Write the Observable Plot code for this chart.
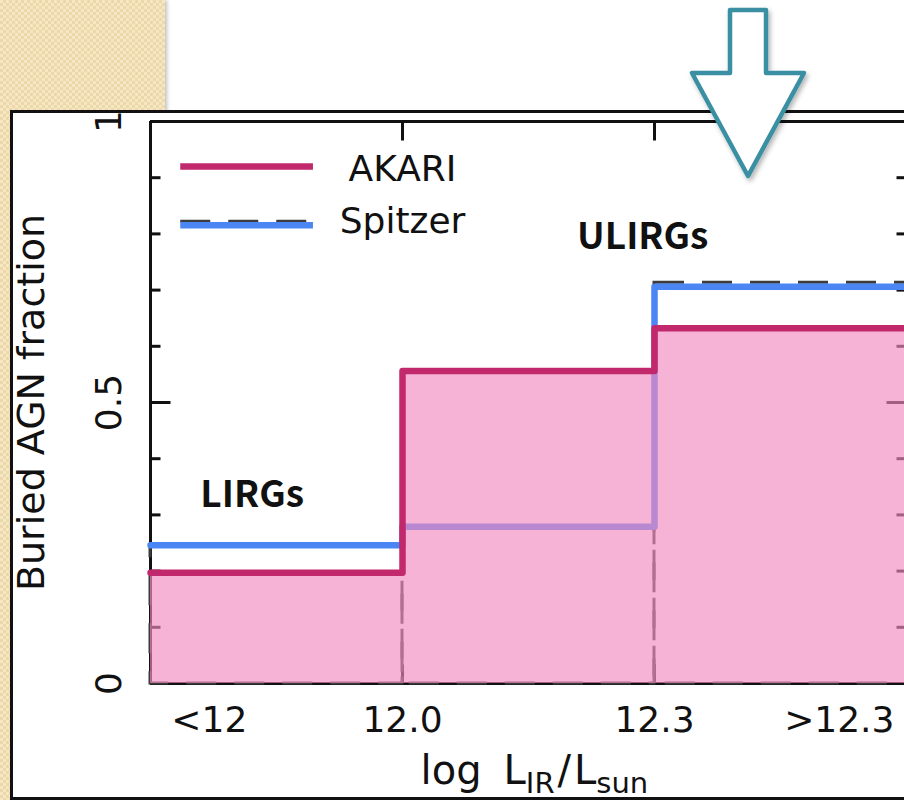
<!DOCTYPE html>
<html>
<head>
<meta charset="utf-8">
<script src="https://cdn.jsdelivr.net/npm/d3@7"></script>
<script src="https://cdn.jsdelivr.net/npm/@observablehq/plot@0.6"></script>
<style>
html, body { margin: 0; padding: 0; background: #fff; }
#wrap { position: relative; width: 904px; height: 800px; overflow: hidden; background: #fff; }
#beige { position: absolute; left: 0; top: 0; width: 165px; height: 800px;
  background-color: #F2E0B5;
  background-image: repeating-conic-gradient(#ECD8A8 0 25%, #F6E7C4 0 50%);
  background-size: 6px 6px;
  box-shadow: 2px 0 4px rgba(0,0,0,0.25); }
#frame { position: absolute; left: 10px; top: 110px; width: 910px; height: 684px;
  border: 3px solid #111; background: #fff; }
#plot { position: absolute; left: 0; top: 0; }
#arrow { position: absolute; left: 0; top: 0; pointer-events: none; }
</style>
</head>
<body>
<div id="wrap">
  <div id="beige"></div>
  <div id="frame"></div>
  <div id="plot"></div>
  <svg id="arrow" width="904" height="800">
    <defs>
      <filter id="sh" x="-30%" y="-30%" width="160%" height="160%">
        <feDropShadow dx="2" dy="3" stdDeviation="2.5" flood-color="#000" flood-opacity="0.3"/>
      </filter>
    </defs>
    <polygon points="730,10 766,10 766,73 804,73 748,176 692,73 730,73"
      fill="#fff" stroke="#3A8FA3" stroke-width="4.5" stroke-linejoin="round" filter="url(#sh)"/>
  </svg>
</div>
<script>
// ---- data ----
const binEdges = [11.7, 12.0, 12.3, 12.6];           // log L_IR / L_sun bin edges
const akari = [0.197, 0.556, 0.632];                  // buried AGN fraction, AKARI
const spitzer = [0.246, 0.279, 0.706];                // buried AGN fraction, Spitzer
const xTickValues = [11.77, 12.0, 12.3, 12.52];
const xTickLabels = ["<12", "12.0", "12.3", ">12.3"];
const yTickValues = [0, 0.5, 1];
const yTickLabels = ["0", "0.5", "1"];
const yMinorTicks = [0.1, 0.2, 0.3, 0.4, 0.6, 0.7, 0.8, 0.9];
const seriesNames = ["AKARI", "Spitzer"];
const legendLineY = [0.92, 0.8155];
const legendTextY = [0.915, 0.822];
const legendX = [11.736, 11.894];
const legendTextX = 12.0;
const classLabels = ["LIRGs", "ULIRGs"];
const classLabelX = [11.821, 12.286];
const classLabelY = [0.3345, 0.795];
const yTitle = "Buried AGN fraction";
const xTitleParts = ["log", "L", "IR", "/", "L", "sun"];

// ---- styles ----
const MAGENTA = "#C2286C";
const BLUE = "#4B87F4";
const PINK = "#F38ABF";
const INK = "#111";
const DASH = "#3c3c3c";
const FONT = "DejaVu Sans";

// ---- tables built from the arrays ----
const stepPts = vals => binEdges.map((e, i) => ({x: e, y: vals[Math.min(i, vals.length - 1)]}));
const bins = akari.map((v, i) => ({i, x1: binEdges[i], x2: binEdges[i + 1], akari: v, spitzer: spitzer[i]}));
const lastBin = bins.length - 1;
const xTicks = xTickValues.map((v, i) => ({v, label: xTickLabels[i]}));
const yTicks = yTickValues.map((v, i) => ({v, label: yTickLabels[i]}));
const legend = seriesNames.map((name, i) => ({name, y: legendLineY[i], ty: legendTextY[i]}));
const classes = classLabels.map((label, i) => ({label, x: classLabelX[i], y: classLabelY[i]}));
const innerEdges = binEdges.slice(1, -1);
const xMin = binEdges[0], xMax = binEdges[binEdges.length - 1];
const xTitleFull = xTitleParts.join("");

const tickShape = {draw(ctx, l) { ctx.moveTo(0, 0); ctx.lineTo(0, -l); }};
const tickOpts = {anchor: "start", shape: tickShape, stroke: INK, strokeWidth: 3, strokeLinecap: "butt"};
const dashOpts = {fill: "none", stroke: DASH, strokeWidth: 3, strokeDasharray: "30,18"};

const chart = Plot.plot({
  width: 904, height: 800,
  marginLeft: 150, marginRight: 0, marginTop: 121, marginBottom: 117,
  x: {domain: [xMin, xMax], range: [150, 906], axis: null},
  y: {domain: [0, 1], range: [683, 121], axis: null},
  style: {fontFamily: FONT, background: "transparent", overflow: "visible", color: INK},
  marks: [
    // axis lines
    Plot.ruleX([xMin], {stroke: INK, strokeWidth: 3}),
    Plot.ruleY([0, 1], {stroke: INK, strokeWidth: 3}),
    // inward ticks
    Plot.vector(yMinorTicks, {x: xMin, y: d => d, length: 10, rotate: 90, ...tickOpts}),
    Plot.vector(yTickValues, {x: xMin, y: d => d, length: 20, rotate: 90, ...tickOpts}),
    Plot.vector(yMinorTicks, {x: xMax, y: d => d, length: 10, rotate: 270, ...tickOpts}),
    Plot.vector(yTickValues, {x: xMax, y: d => d, length: 20, rotate: 270, ...tickOpts}),
    Plot.vector(innerEdges, {x: d => d, y: 1, length: 19, rotate: 180, ...tickOpts}),
    Plot.vector(innerEdges, {x: d => d, y: 0, length: 19, rotate: 0, ...tickOpts}),
    // Spitzer: dashed original outline (peeks out above the blue overlay in the last bin)
    Plot.rect(bins.filter(d => d.i < lastBin), {x1: "x1", x2: "x2", y1: 0, y2: "spitzer", ...dashOpts}),
    Plot.rect(bins.filter(d => d.i === lastBin), {x1: "x1", x2: "x2", y1: 0, y2: "spitzer", insetTop: -4, ...dashOpts}),
    Plot.line(stepPts(spitzer), {x: "x", y: "y", curve: "step-after", stroke: BLUE, strokeWidth: 6.5}),
    // AKARI fill + outline
    Plot.rect(bins, {x1: "x1", x2: "x2", y1: 0, y2: "akari", fill: PINK, fillOpacity: 0.65}),
    Plot.line(stepPts(akari), {x: "x", y: "y", curve: "step-after", stroke: MAGENTA, strokeWidth: 6.5}),
    // legend
    Plot.ruleY([legend[0]], {y: "y", x1: legendX[0], x2: legendX[1], stroke: MAGENTA, strokeWidth: 6.5}),
    Plot.ruleY([legend[1]], {y: "y", x1: legendX[0], x2: legendX[1], stroke: DASH, strokeWidth: 3,
      strokeDasharray: "30,18", dy: -4}),
    Plot.ruleY([legend[1]], {y: "y", x1: legendX[0], x2: legendX[1], stroke: BLUE, strokeWidth: 6.5}),
    Plot.text(legend, {x: legendTextX, y: "ty", text: "name", fontSize: 36, fill: INK}),
    // class annotations
    Plot.text(classes, {x: "x", y: "y", text: "label", fontSize: 37, fontWeight: "bold",
      fontFamily: "Noto Sans CJK KR", fill: INK}),
    // tick labels
    Plot.text(xTicks, {x: "v", y: 0, dy: 37, text: "label", fontSize: 36, fill: INK}),
    Plot.text(yTicks, {x: xMin, y: "v", dx: -41, rotate: -90, text: "label", fontSize: 36, fill: INK}),
    // axis titles
    Plot.text([yTitle], {x: xMin, y: 0.5, dx: -119, rotate: -90, text: d => d, fontSize: 38, fill: INK}),
    Plot.text([xTitleFull], {x: 12.157, y: 0, dy: 88, text: d => d, fontSize: 40, fill: INK})
  ]
});

// render the x-axis title with real subscript tspans
chart.querySelectorAll("text").forEach(t => {
  if (t.textContent === xTitleFull) {
    t.textContent = "";
    const ns = "http://www.w3.org/2000/svg";
    const specs = [
      {s: xTitleParts[0]},
      {s: xTitleParts[1], dx: 22},
      {s: xTitleParts[2], size: 29, dy: 9},
      {s: xTitleParts[3], dy: -9, dx: 3},
      {s: xTitleParts[4], dx: 3},
      {s: xTitleParts[5], size: 29, dy: 9}
    ];
    specs.forEach(p => {
      const ts = document.createElementNS(ns, "tspan");
      ts.textContent = p.s;
      if (p.size) ts.setAttribute("font-size", p.size);
      if (p.dy) ts.setAttribute("dy", p.dy);
      if (p.dx) ts.setAttribute("dx", p.dx);
      t.appendChild(ts);
    });
  }
});

document.getElementById("plot").appendChild(chart);
</script>
</body>
</html>
